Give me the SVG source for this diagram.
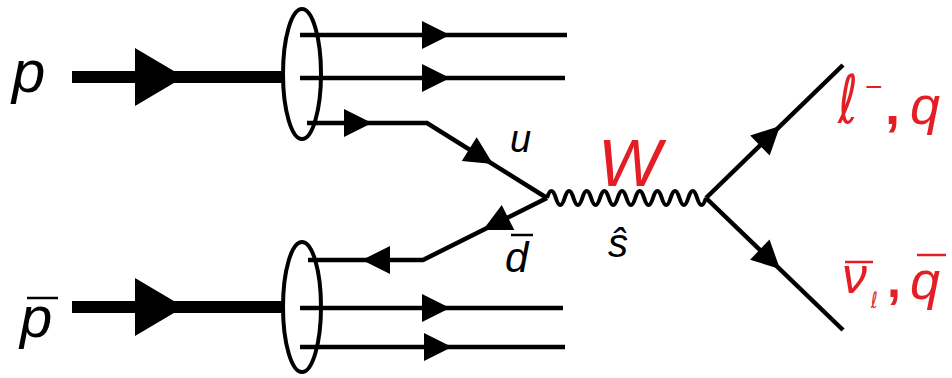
<svg xmlns="http://www.w3.org/2000/svg" xmlns:xlink="http://www.w3.org/1999/xlink" width="952" height="378" viewBox="0 0 952 378">
<style>
.q{fill:none;stroke:#000;stroke-width:4.5;stroke-linecap:butt;stroke-linejoin:miter}
.beam{fill:none;stroke:#000;stroke-width:12}
.had{fill:none;stroke:#000;stroke-width:4}
.lab{font-family:"Liberation Sans",Arial,"DejaVu Sans",sans-serif;font-style:italic;fill:#000}
.red{font-family:"Liberation Sans",Arial,"DejaVu Sans",sans-serif;fill:#e31e24}
.ell{font-family:"DejaVu Sans","Liberation Sans",sans-serif;fill:#e31e24}
.ol{stroke:#000;stroke-width:2.5}
.olr{stroke:#e31e24;stroke-width:2.5}
</style>
<defs>
<polygon id="ah" points="-28,-14 0,0 -28,14" fill="#000"/>
<polygon id="bh" points="-49,-29 0,0 -49,29" fill="#000"/>
</defs>
<rect width="952" height="378" fill="#fff"/>

<g id="connectors">
  <!-- proton beam -->
  <line class="beam" x1="72" y1="77" x2="283" y2="77"/>
  <use xlink:href="#bh" transform="translate(184,77)"/>
  <!-- antiproton beam -->
  <line class="beam" x1="72" y1="307" x2="283" y2="307"/>
  <use xlink:href="#bh" transform="translate(184,307)"/>
  <!-- spectator quarks, top -->
  <line class="q" x1="300" y1="35" x2="567" y2="35"/>
  <use xlink:href="#ah" transform="translate(450,35)"/>
  <line class="q" x1="300" y1="78" x2="565" y2="78"/>
  <use xlink:href="#ah" transform="translate(450,78)"/>
  <!-- u quark -->
  <polyline class="q" points="307,123 427,123 547,198"/>
  <use xlink:href="#ah" transform="translate(372,123)"/>
  <use xlink:href="#ah" transform="translate(493,164) rotate(32)"/>
  <!-- dbar quark -->
  <polyline class="q" points="547,198 423,260 308,260"/>
  <use xlink:href="#ah" transform="translate(483,230) rotate(153.4)"/>
  <use xlink:href="#ah" transform="translate(362,260) rotate(180)"/>
  <!-- spectator quarks, bottom -->
  <line class="q" x1="300" y1="308" x2="563" y2="308"/>
  <use xlink:href="#ah" transform="translate(450,308)"/>
  <line class="q" x1="300" y1="347" x2="565" y2="347"/>
  <use xlink:href="#ah" transform="translate(452,347)"/>
  <!-- W boson -->
  <path d="M547,198 q4.415,-14 8.83,0 t8.83,0 t8.83,0 t8.83,0 t8.83,0 t8.83,0 t8.83,0 t8.83,0 t8.83,0 t8.83,0 t8.83,0 t8.83,0 t8.83,0 t8.83,0 t8.83,0 t8.83,0 t8.83,0 t8.83,0" fill="none" stroke="#000" stroke-width="4"/>
  <!-- decay products -->
  <line class="q" x1="706" y1="198" x2="843" y2="65"/>
  <use xlink:href="#ah" transform="translate(780,126) rotate(-44.2)"/>
  <line class="q" x1="706" y1="198" x2="843" y2="330"/>
  <use xlink:href="#ah" transform="translate(780,269) rotate(43.9)"/>
</g>

<g id="proton">
  <ellipse class="had" cx="302" cy="74" rx="19" ry="65"/>
  <text class="lab" x="12" y="92" font-size="60">p</text>
</g>
<g id="antiproton">
  <ellipse class="had" cx="302" cy="307" rx="19" ry="65"/>
  <text class="lab" x="20" y="337" font-size="58">p</text>
  <line class="ol" x1="27" y1="298" x2="58" y2="298"/>
</g>
<g id="quark-labels">
  <text class="lab" x="510" y="152" font-size="38">u</text>
  <text class="lab" x="505" y="272" font-size="42">d</text>
  <line class="ol" x1="511" y1="235" x2="533" y2="235"/>
</g>
<g id="W">
  <text class="red" x="598" y="186" font-size="67" font-style="italic">W</text>
  <text x="608" y="257" font-size="40" font-style="italic" font-family="'Liberation Sans',Arial,sans-serif">ŝ</text>
</g>
<g id="lepton">
  <text class="ell" transform="translate(838,123) scale(1,1.4)" font-size="48" font-style="italic">ℓ</text>
  <text class="red" x="865" y="97" font-size="30">−</text>
  <text class="red" x="885" y="124" font-size="54" font-weight="bold">,</text>
  <text class="red" x="910" y="124" font-size="54" font-style="italic">q</text>
</g>
<g id="neutrino">
  <text class="red" x="842" y="293" font-size="50" font-style="italic">ν</text>
  <line class="olr" x1="845" y1="262" x2="873" y2="262"/>
  <text class="ell" transform="translate(871,308) scale(1,1.4)" font-size="16" font-style="italic">ℓ</text>
  <text class="red" x="887" y="297" font-size="50" font-weight="bold">,</text>
  <text class="red" x="910" y="299" font-size="54" font-style="italic">q</text>
  <line class="olr" x1="917" y1="255" x2="946" y2="255"/>
</g>
</svg>
